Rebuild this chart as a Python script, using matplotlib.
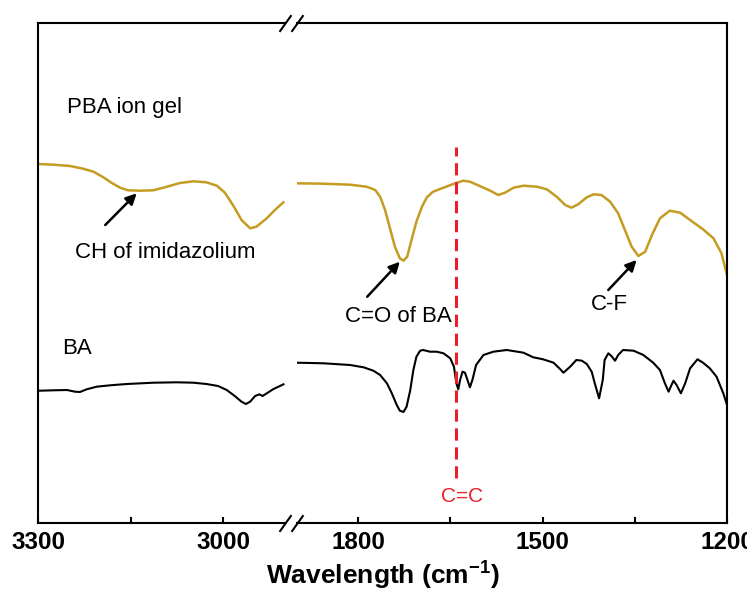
import matplotlib
matplotlib.use("Agg")
import matplotlib.pyplot as plt

plt.rcParams['font.family'] = ['Liberation Sans', 'DejaVu Sans']
plt.rcParams['mathtext.fontset'] = 'custom'
plt.rcParams['mathtext.rm'] = 'Liberation Sans'
plt.rcParams['mathtext.bf'] = 'Liberation Sans:bold'

# PBA ion gel spectrum (a.u., offset), high wavenumber part and fingerprint part
gel_hi_wn = [3300, 3275, 3248, 3227, 3210, 3194, 3181, 3167, 3154, 3135,
             3113, 3091, 3070, 3048, 3027, 3010, 2997, 2983, 2970, 2956,
             2946, 2929, 2916, 2902]
gel_hi_val = [359, 358.3, 357, 354.3, 351.3, 345.7, 340.3, 335.3, 332.7, 332.3,
              332.7, 336.3, 340, 341.7, 340.7, 337.3, 330.3, 317, 303, 294.7,
              296.3, 304.7, 313, 320.7]
gel_lo_wn = [1900, 1856, 1813, 1786, 1772, 1764, 1756, 1748, 1740, 1732,
             1726, 1720, 1713, 1705, 1696, 1688, 1678, 1661, 1645, 1629,
             1618, 1602, 1585, 1572, 1561, 1547, 1531, 1509, 1493, 1477,
             1463, 1453, 1442, 1428, 1417, 1404, 1390, 1377, 1366, 1355,
             1344, 1333, 1322, 1309, 1293, 1276, 1260, 1239, 1222, 1209,
             1200]
gel_lo_val = [339.7, 339.3, 338.3, 336.3, 333, 326.3, 313, 294.7, 276.3, 264.7,
              262.3, 266.3, 283, 301.3, 316.3, 325.7, 331.3, 335.3, 339, 342.3,
              341.3, 337, 332.3, 328, 330.3, 335.3, 337.3, 336.3, 333.7, 326.3,
              318, 315.3, 318.7, 325.7, 328.7, 328, 321.3, 309.7, 293, 276.3,
              267, 271.3, 288, 304.7, 312.3, 310.3, 303, 293.7, 284.7, 269.7,
              248]

# BA spectrum
ba_hi_wn = [3297, 3275, 3253, 3240, 3232, 3221, 3205, 3183, 3156, 3113,
            3075, 3048, 3027, 3008, 2994, 2981, 2970, 2963, 2956, 2948,
            2941, 2936, 2929, 2919, 2902]
ba_hi_val = [132.3, 132.7, 133, 131.3, 131, 133.7, 136.3, 137.7, 139, 140.3,
             140.7, 140.3, 139, 137, 133, 127, 121.3, 119, 121.3, 127,
             128.7, 127, 129.7, 133.7, 138.7]
ba_lo_wn = [1900, 1856, 1813, 1791, 1775, 1764, 1753, 1745, 1737, 1732,
            1726, 1721, 1715, 1710, 1705, 1699, 1694, 1683, 1672, 1661,
            1650, 1644, 1640, 1637, 1634, 1630, 1626, 1622, 1618, 1614,
            1608, 1596, 1580, 1558, 1531, 1515, 1499, 1482, 1471, 1466,
            1455, 1445, 1436, 1428, 1420, 1415, 1408, 1402, 1399, 1393,
            1388, 1382, 1377, 1369, 1352, 1336, 1320, 1309, 1301, 1295,
            1291, 1287, 1282, 1275, 1268, 1260, 1248, 1239, 1228, 1217,
            1206, 1200]
ba_lo_val = [160.3, 159.7, 158, 155.7, 152.3, 148, 139.7, 129.7, 118, 112.3,
             111, 116.3, 133, 153, 166.3, 172.3, 173, 171.3, 171.3, 169.7,
             164.7, 156.3, 139.7, 133.7, 143, 151.3, 150.3, 143, 135.7, 143,
             158, 168, 171.3, 173, 170.3, 165.7, 163.7, 160.3, 153.7, 150.3,
             156.3, 163, 162.3, 159, 151.3, 139.7, 124.7, 143, 163, 169.7,
             167, 162.3, 168, 173, 172.3, 168, 160.3, 153, 139.7, 131.3,
             137, 142.3, 138, 129.7, 139.7, 154.7, 163.7, 160.3, 154.7, 146.3,
             129.7, 118]

cc_wn = 1640

gold = '#C49C22'
red = '#E8202A'
W, H = 747, 590
fig = plt.figure(figsize=(W / 100, H / 100), dpi=100)

bot = 1 - 523 / H
top = 1 - 23 / H
ax1 = fig.add_axes([38 / W, bot, (284.7 - 38) / W, top - bot])
ax2 = fig.add_axes([296.5 / W, bot, (727 - 296.5) / W, top - bot])

ax1.plot(gel_hi_wn, gel_hi_val, color=gold, lw=1.8)
ax1.plot(ba_hi_wn, ba_hi_val, color='black', lw=1.5)
ax2.plot(gel_lo_wn, gel_lo_val, color=gold, lw=1.8)
ax2.plot(ba_lo_wn, ba_lo_val, color='black', lw=1.5)

ax1.set_xlim(3300, 2900)
ax2.set_xlim(1900, 1200)
ax1.spines['right'].set_visible(False)
ax2.spines['left'].set_visible(False)
ax1.set_xticks([3300, 3000])
ax1.set_xticks([3150], minor=True)
ax2.set_xticks([1800, 1500, 1200])
ax2.set_xticks([1650, 1350], minor=True)
for ax in (ax1, ax2):
    ax.set_ylim(0, 500)
    ax.set_yticks([])
    for s in ax.spines.values():
        s.set_linewidth(1.5)
    ax.tick_params(axis='x', which='both', direction='in', width=1.5,
                   length=4, pad=6, labelsize=17.5)
    for lab in ax.get_xticklabels():
        lab.set_fontweight('bold')

fig.text((38 + 727) / 2 / W, 1 - 575 / H, r'Wavelength (cm$^{\mathbf{-1}}$)',
         ha='center', va='center', fontsize=19, fontweight='bold')

# break marks
kw = dict(marker=[(-1, -1.4), (1, 1.4)], markersize=12, linestyle='none',
          color='k', mec='k', mew=1.5, clip_on=False)
ax1.plot([1, 1], [0, 1], transform=ax1.transAxes, **kw)
ax2.plot([0, 0], [0, 1], transform=ax2.transAxes, **kw)

# C=C dashed line
ax2.plot([cc_wn, cc_wn], [45, 376], color=red, lw=2.2, linestyle=(0, (4, 2.2)))
ax2.text(1631, 26, 'C=C', color=red, fontsize=15, ha='center', va='center')

# labels
ax1.text(3253, 416, 'PBA ion gel', fontsize=16, ha='left', va='center')
ax1.text(3261, 174, 'BA', fontsize=16, ha='left', va='center')

arrow = dict(arrowstyle='-|>', color='black', lw=1.8, mutation_scale=16,
             shrinkA=0, shrinkB=0)
ax1.annotate('', xy=(3140, 329.7), xytext=(3191, 298), arrowprops=arrow)
ax1.text(3094, 270, 'CH of imidazolium', fontsize=16, ha='center', va='center',
         clip_on=False)
ax2.annotate('', xy=(1732, 261.3), xytext=(1785, 226.3), arrowprops=arrow)
ax2.text(1735, 207, 'C=O of BA', fontsize=16, ha='center', va='center')
ax2.annotate('', xy=(1347, 263), xytext=(1393, 233), arrowprops=arrow)
ax2.text(1392, 219, 'C-F', fontsize=16, ha='center', va='center')

fig.savefig('out.png', dpi=100)
